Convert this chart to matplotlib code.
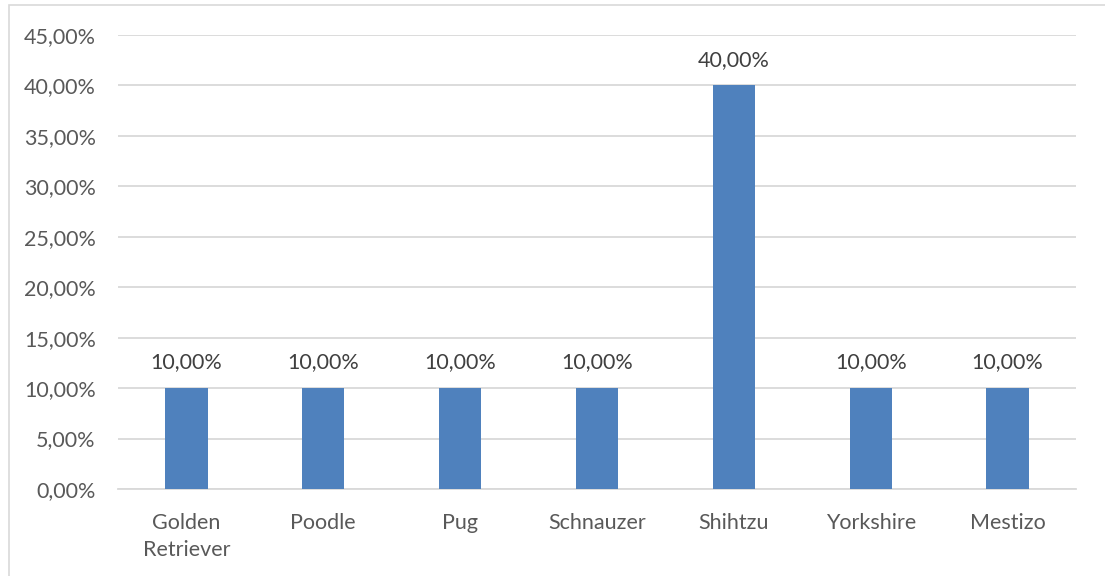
import matplotlib.pyplot as plt
from matplotlib.patches import Rectangle
from matplotlib.ticker import FuncFormatter

razas = ["Golden\nRetriever", "Poodle", "Pug", "Schnauzer", "Shihtzu", "Yorkshire", "Mestizo"]
porcentajes = [10.0, 10.0, 10.0, 10.0, 40.0, 10.0, 10.0]
ticks_y = [0, 5, 10, 15, 20, 25, 30, 35, 40, 45]

plt.rcParams['font.family'] = ['Lato', 'DejaVu Sans']

def pct(v, pos=None):
    return f"{v:.2f}".replace(".", ",") + "%"

fig = plt.figure(figsize=(11.05, 5.76), dpi=100)
ax = fig.add_axes([118 / 1105, 1 - 489 / 576, (1076 - 118) / 1105, (489 - 35) / 576])

# chart area border
fig.patches.append(Rectangle((9 / 1105, -0.1), 1.2, 1 - 5 / 576 + 0.1, transform=fig.transFigure,
                             fill=False, edgecolor='#d9d9d9', linewidth=1.2))

x = range(len(razas))
bars = ax.bar(x, porcentajes, width=0.31, color='#4f81bd', zorder=3)
for b, v in zip(bars, porcentajes):
    ax.text(b.get_x() + b.get_width() / 2, v + 1.55, pct(v), ha='center', va='bottom',
            fontsize=15.5, color='#404040')

ax.set_xlim(-0.5, len(razas) - 0.5)
ax.set_ylim(0, 45)
ax.set_yticks(ticks_y)
ax.yaxis.set_major_formatter(FuncFormatter(pct))
ax.set_xticks(list(x))
ax.set_xticklabels(razas, linespacing=1.45)
ax.grid(axis='y', color='#d9d9d9', linewidth=1.3, zorder=0)
for s in ['top', 'right', 'left']:
    ax.spines[s].set_visible(False)
ax.spines['bottom'].set_color('#d9d9d9')
ax.spines['bottom'].set_linewidth(1.3)
ax.tick_params(axis='both', length=0, labelsize=15.5, labelcolor='#595959')
ax.tick_params(axis='y', pad=16)
ax.tick_params(axis='x', pad=17)

fig.savefig('out.png', dpi=100)
